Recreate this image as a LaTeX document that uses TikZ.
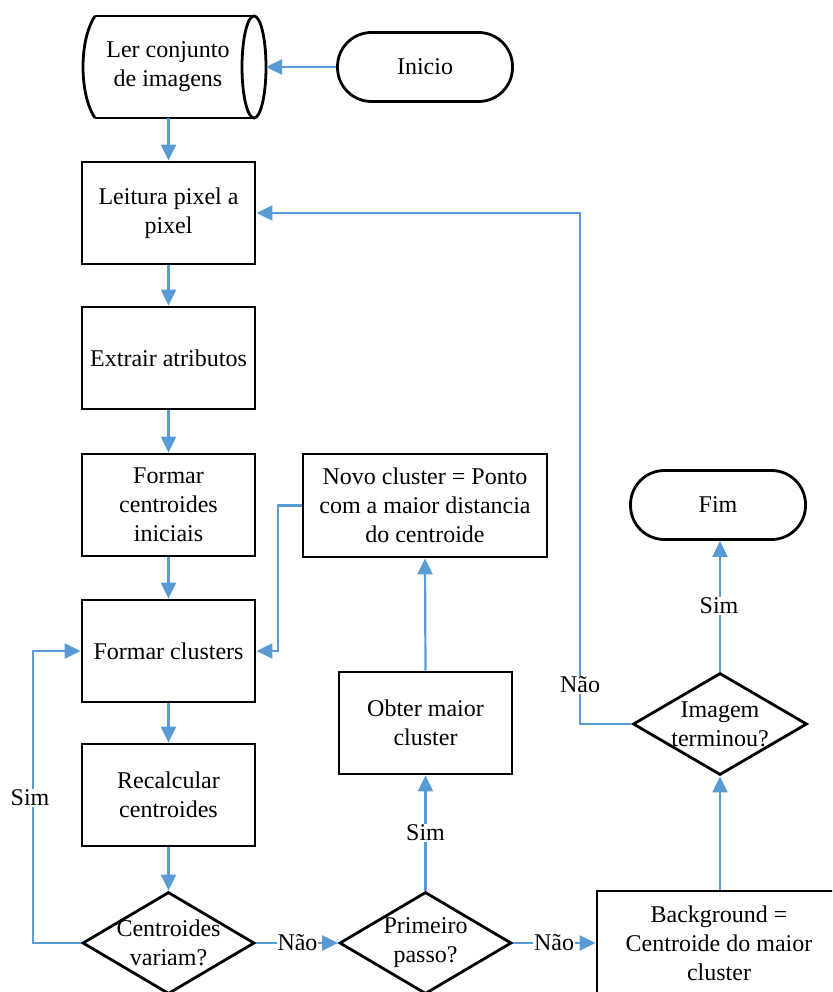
\documentclass[tikz,border=0pt]{standalone}
\usepackage{fontspec}
\setmainfont{Liberation Serif}
\usetikzlibrary{shapes.geometric,arrows.meta}
\definecolor{arrowblue}{HTML}{5B9BD5}
\begin{document}
\begin{tikzpicture}[x=1pt,y=-1pt,
  txt/.style={font=\fontsize{24}{29}\selectfont, align=center, inner sep=0pt},
  box/.style={txt, draw=black, line width=2.8pt, rectangle, minimum width=173pt, minimum height=102pt},
  term/.style={txt, draw=black, line width=2.8pt, rectangle, rounded corners=34pt, minimum width=175pt, minimum height=69pt},
  dec/.style={draw=black, line width=2.8pt, diamond, inner sep=0pt, minimum width=172pt, minimum height=102pt},
  conn/.style={draw=arrowblue, line width=2.2pt, -{Triangle[length=16pt,width=15pt]}},
  lbl/.style={txt, fill=white, inner sep=1pt}
]
\clip (0,0) rectangle (832,992);
\fill[white] (0,0) rectangle (832,992);

% cylinder (read images)
\draw[line width=2.8pt] (95,16) -- (254,16);
\draw[line width=2.8pt] (95,118) -- (254,118);
\draw[line width=2.8pt] (95,16) .. controls (79,40) and (79,94) .. (95,118);
\draw[line width=2.8pt] (254,67) ellipse (12pt and 51pt);
\node[txt] (ler) at (168,67) {Ler conjunto\\de imagens};
\coordinate (lerE) at (266,67);
\coordinate (lerS) at (168.5,118);

\node[term] (inicio) at (425,67) {Inicio};
\node[box] (leitura) at (168.5,213) {Leitura pixel a\\pixel};
\node[box] (extrair) at (168.5,358) {Extrair atributos};
\node[box] (formcent) at (168.5,505) {Formar\\centroides\\iniciais};
\node[box] (clusters) at (168.5,651) {Formar clusters};
\node[box] (recalc) at (168.5,795) {Recalcular\\centroides};
\node[dec] (cvar) at (168.5,943) {};
\node[txt] at (cvar) {Centroides\\variam?};
\node[dec] (prim) at (425.5,943) {};
\node[txt] at (prim) {Primeiro\\passo?};
\node[box, minimum width=244pt, minimum height=104pt] (bg) at (719,943) {Background =\\Centroide do maior\\cluster};
\node[box] (obter) at (425.5,723) {Obter maior\\cluster};
\node[box, minimum width=244pt, minimum height=103pt] (novo) at (425,505.5) {Novo cluster = Ponto\\com a maior distancia\\do centroide};
\node[dec, minimum width=174pt, minimum height=102pt] (img) at (720,724) {};
\node[txt] at (img) {Imagem\\terminou?};
\node[term] (fim) at (718,505) {Fim};

% connectors
\draw[conn] (inicio.west) -- (lerE);
\draw[conn] (lerS) -- (leitura.north);
\draw[conn] (leitura.south) -- (extrair.north);
\draw[conn] (extrair.south) -- (formcent.north);
\draw[conn] (formcent.south) -- (clusters.north);
\draw[conn] (clusters.south) -- (recalc.north);
\draw[conn] (recalc.south) -- (cvar.north);
\draw[conn] (cvar.west) -- (33,943) |- (clusters.west);
\node[lbl] at (30,798) {Sim};
\draw[conn] (cvar.east) -- (prim.west);
\node[lbl] at (297.5,943) {Não};
\draw[conn] (prim.east) -- (bg.west);
\node[lbl] at (554,943) {Não};
\draw[conn] (prim.north) -- (obter.south);
\node[lbl] at (425.5,833) {Sim};
\draw[conn] (obter.north) -- (novo.south);
\draw[conn] (novo.west) -- (278,505.5) |- (clusters.east);
\draw[conn] (bg.north -| img.south) -- (img.south);
\draw[conn] (img.north) -- (img.north |- fim.south);
\node[lbl] at (719,606) {Sim};
\draw[conn] (img.west) -- (580,724) |- (leitura.east);
\node[lbl] at (580,685) {Não};
\end{tikzpicture}
\end{document}
